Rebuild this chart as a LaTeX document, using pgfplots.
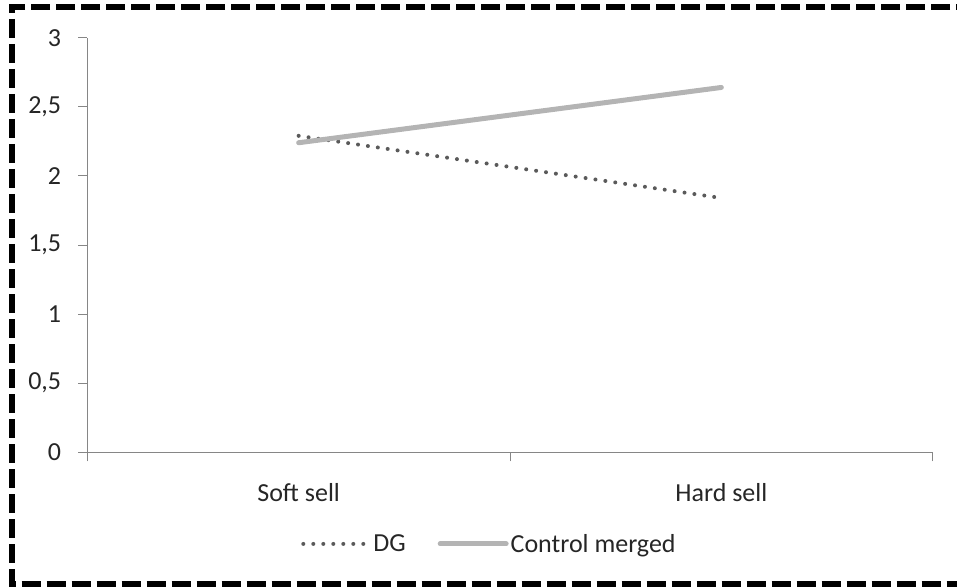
\documentclass[border=0pt]{standalone}
\usepackage{pgfplots}
\pgfplotsset{compat=1.18}
\usepackage{fontspec}
\setmainfont{Carlito}
\definecolor{axisgray}{HTML}{868686}
\definecolor{dggray}{HTML}{5A5A5A}
\definecolor{ctrlgray}{HTML}{B4B4B4}
\newcommand{\chartfont}{\fontsize{26}{31}\selectfont}
\begin{document}
\begin{tikzpicture}[x=1pt,y=1pt]
\useasboundingbox (0pt,0pt) rectangle (957pt,587pt);
% dashed frame around the whole chart
\draw[black, line width=6pt, dash pattern=on 19pt off 6pt] (975pt,579.7pt) -- (11.7pt,579.7pt) -- (11.7pt,3pt) -- (975pt,3pt);
\begin{axis}[
  at={(87.3pt,134.7pt)}, anchor=south west,
  scale only axis, width=845.4pt, height=414.6pt,
  xmin=0.5, xmax=2.5, ymin=0, ymax=3,
  axis x line=bottom, axis y line=left,
  axis line style={axisgray, line width=1pt, -},
  tick style={axisgray, line width=1pt},
  tick align=outside, major tick length=9pt,
  xtick={0.5,1.5,2.5}, xticklabels={},
  extra x ticks={1,2}, extra x tick labels={Soft sell,Hard sell},
  extra x tick style={major tick length=0pt, xticklabel style={anchor=center, yshift=-40pt}},
  ytick={0,0.5,1,1.5,2,2.5,3},
  /pgf/number format/use comma,
  /pgf/number format/assume math mode=true,
  tick label style={font=\chartfont, text=black!85},
  yticklabel style={anchor=east, inner sep=0pt, xshift=-17pt},
  legend style={at={(0.4757,-0.221)}, anchor=center, draw=none, fill=none,
    font=\chartfont, text=black!85, legend columns=2,
    /tikz/every even column/.style={column sep=30pt}},
  legend image code/.code={\draw[#1] (0pt,0pt) -- (66pt,0pt);},
]
\addplot[dggray, line width=4pt, line cap=round, dash pattern=on 0pt off 10pt] coordinates {(1,2.29) (2,1.84)};
\addlegendentry{DG}
\addplot[ctrlgray, line width=5pt, line cap=round] coordinates {(1,2.24) (2,2.64)};
\addlegendentry{Control merged}
\end{axis}
\end{tikzpicture}
\end{document}
